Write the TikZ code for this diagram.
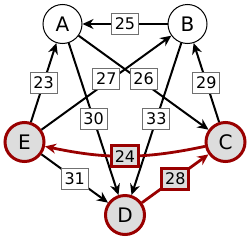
\documentclass[tikz,border=0pt]{standalone}
\usepackage{fontspec}
\setmainfont{DejaVu Sans}
\definecolor{PathRed}{HTML}{990000}
\definecolor{NodeGray}{HTML}{DDDDDD}
\definecolor{BoxGray}{HTML}{707070}
\usetikzlibrary{arrows.meta, positioning}

\begin{document}
\begin{tikzpicture}[x=0.5pt, y=-0.5pt,
   vertex/.style={circle, draw=black, line width=0.5pt, fill=white,
      minimum size=19.5pt, inner sep=0pt, font=\fontsize{10}{11}\selectfont},
   pathvertex/.style={vertex, draw=PathRed, line width=1.5pt, fill=NodeGray},
   weight/.style={draw=BoxGray, line width=0.5pt, fill=white, minimum width=13.5pt,
      minimum height=10.5pt, inner sep=1pt, font=\fontsize{8}{9}\selectfont},
   pathweight/.style={weight, draw=PathRed, line width=1.5pt, fill=NodeGray},
   link/.style={-{Stealth[length=5.5pt, width=5pt]}, line width=1pt},
   pathlink/.style={link, draw=PathRed, line width=1.4pt}]
            \useasboundingbox (0,0) rectangle (250,241);
            % Vertices (regular pentagon)
            \node[vertex] (A) at (62.5,24) {A};
            \node[vertex] (B) at (187.5,24) {B};
            \node[pathvertex] (C) at (225.5,142) {C};
            \node[pathvertex] (D) at (125,215) {D};
            \node[pathvertex] (E) at (24.5,142) {E};
            % Weighted edges
            \draw[link] (B) -- node[weight] {25} (A);
            \draw[link] (E) -- node[weight] {23} (A);
            \draw[link] (E) -- node[weight, yshift=2pt] {27} (B);
            \draw[link] (A) -- node[weight, yshift=2pt] {26} (C);
            \draw[link] (A) -- node[weight] {30} (D);
            \draw[link] (B) -- node[weight] {33} (D);
            \draw[link] (C) -- node[weight] {29} (B);
            \draw[link] (E) -- node[weight] {31} (D);
            % Highlighted path D -> C -> E
            \draw[pathlink] (D) -- node[pathweight] {28} (C);
            \draw[pathlink] (C) to[bend left=12] node[pathweight] {24} (E);
         \end{tikzpicture}
\end{document}
